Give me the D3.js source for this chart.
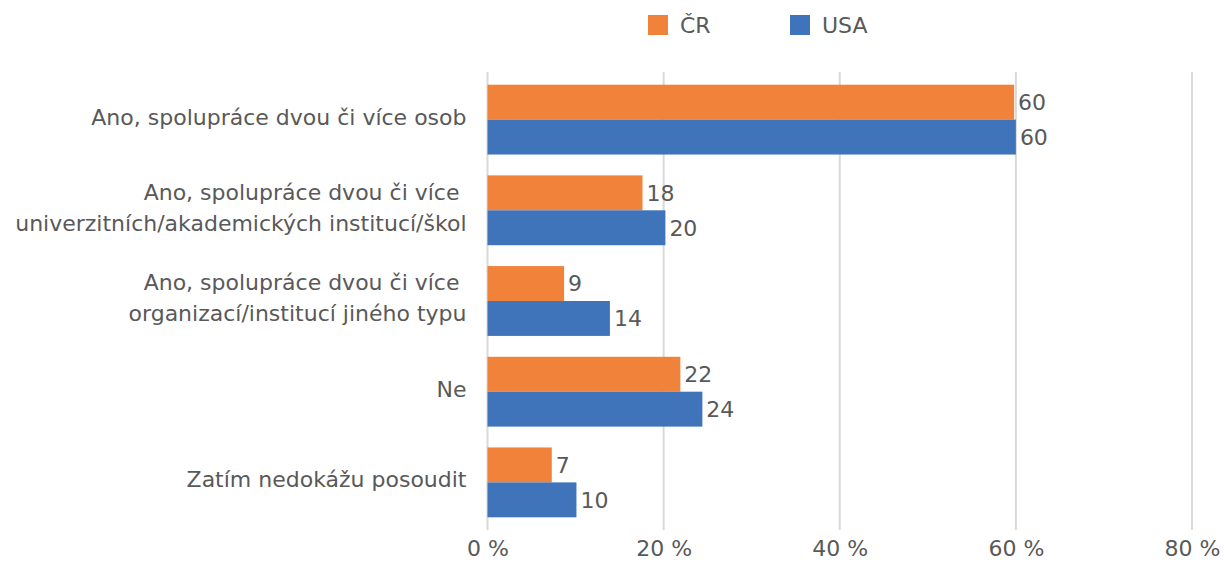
<!DOCTYPE html>
<html>
<head>
<meta charset="utf-8">
<script src="https://cdn.jsdelivr.net/npm/d3@7"></script>
<style>
  body { margin: 0; background: #fff; }
  svg text { font-family: "DejaVu Sans", "Open Sans", sans-serif; fill: #595959; }
</style>
</head>
<body>
<svg id="chart" width="1227" height="562"></svg>
<script>
// categories, one array of lines per label
var categories = [
  ["Ano, spolupráce dvou či více osob"],
  ["Ano, spolupráce dvou či více ", "univerzitních/akademických institucí/škol"],
  ["Ano, spolupráce dvou či více ", "organizací/institucí jiného typu"],
  ["Ne"],
  ["Zatím nedokážu posoudit"]
];
var seriesNames = ["ČR", "USA"];
var crValues = [59.8, 17.6, 8.7, 21.9, 7.3];
var usaValues = [60.0, 20.2, 13.9, 24.4, 10.1];
var xTicks = [0, 20, 40, 60, 80];
var colors = ["#F0823A", "#3F73BA"];

var fontSize = "22px";

var svg = d3.select("#chart");
var margin = { top: 72, left: 487.5, right: 35, bottom: 32 };
var width = 1227 - margin.left - margin.right;
var height = 562 - margin.top - margin.bottom;

var x = d3.scaleLinear().domain([0, 80]).range([0, width]);
var y = d3.scaleBand().domain(d3.range(categories.length)).range([0, height])
  .paddingInner(0.23).paddingOuter(0.14);
var sub = d3.scaleBand().domain([0, 1]).range([0, y.bandwidth()]);

var g = svg.append("g").attr("transform", "translate(" + margin.left + "," + margin.top + ")");

// gridlines
g.selectAll(".grid").data(xTicks).enter().append("line")
  .attr("x1", function(d) { return x(d); })
  .attr("x2", function(d) { return x(d); })
  .attr("y1", 0).attr("y2", height)
  .attr("stroke", "#d9d9d9").attr("stroke-width", 2);

// x axis labels
var xAxis = g.append("g").attr("transform", "translate(0," + height + ")")
  .call(d3.axisBottom(x).tickValues(xTicks).tickSize(0).tickPadding(10)
    .tickFormat(function(d) { return d + " %"; }));
xAxis.select(".domain").remove();
xAxis.selectAll("text").style("font-size", fontSize)
  .style("font-family", "DejaVu Sans").attr("fill", "#595959");

var rows = crValues.map(function(v, i) { return [v, usaValues[i]]; });

var groups = g.selectAll(".cat").data(rows).enter().append("g")
  .attr("transform", function(d, i) { return "translate(0," + y(i) + ")"; });

groups.selectAll("rect").data(function(d) { return d; }).enter().append("rect")
  .attr("x", 0)
  .attr("y", function(d, j) { return sub(j); })
  .attr("width", function(d) { return x(d); })
  .attr("height", sub.bandwidth())
  .attr("fill", function(d, j) { return colors[j]; });

groups.selectAll(".val").data(function(d) { return d; }).enter().append("text")
  .attr("x", function(d) { return x(d) + 4; })
  .attr("y", function(d, j) { return sub(j) + sub.bandwidth() / 2; })
  .attr("dy", "0.36em")
  .style("font-size", fontSize)
  .text(function(d) { return Math.round(d); });

// category labels
var labels = g.selectAll(".lab").data(categories).enter().append("text")
  .attr("text-anchor", "end")
  .attr("xml:space", "preserve")
  .style("font-size", fontSize)
  .attr("transform", function(d, i) {
    return "translate(-21," + (y(i) + y.bandwidth() / 2) + ")";
  });
labels.each(function(lines) {
  var t = d3.select(this);
  var n = lines.length;
  lines.forEach(function(line, k) {
    t.append("tspan").attr("x", 0)
      .attr("y", (k - (n - 1) / 2) * 31 - 3)
      .attr("dy", "0.36em")
      .text(line);
  });
});

// legend
var legend = svg.append("g").attr("transform", "translate(648,15)");
var items = legend.selectAll("g").data(seriesNames).enter().append("g")
  .attr("transform", function(d, i) { return "translate(" + i * 142 + ",0)"; });
items.append("rect").attr("width", 20).attr("height", 20)
  .attr("fill", function(d, i) { return colors[i]; });
items.append("text").attr("x", 32).attr("y", 10).attr("dy", "0.36em")
  .style("font-size", fontSize)
  .text(function(d) { return d; });
</script>
</body>
</html>
